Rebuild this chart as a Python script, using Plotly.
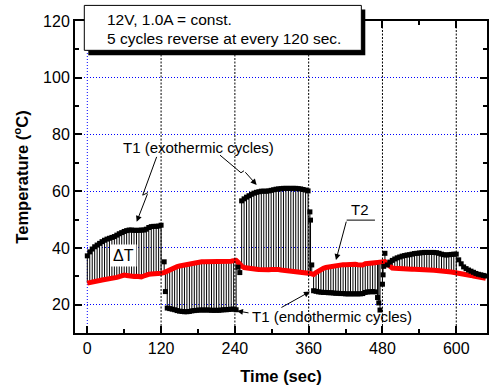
import plotly.graph_objects as go

# ---------------- data ----------------
# cycle 1 (exothermic) 0-120 s
time_a = [0, 4, 8, 12, 16, 20, 24, 28, 32, 36, 40, 44, 48, 52, 56, 60, 64, 68, 72, 76,
          80, 84, 88, 92, 96, 100, 104, 108, 112, 116, 120]
t1_a = [37.2, 38.6, 39.6, 40.4, 41.0, 41.6, 42.2, 42.7, 43.1, 43.4, 43.7, 44.0, 44.5, 45.0,
        45.4, 45.8, 46.1, 46.3, 46.3, 46.2, 46.2, 46.2, 46.3, 46.3, 46.6, 47.2, 47.5, 47.6,
        47.6, 47.7, 48.0]
t2_a = [27.6, 27.7, 27.9, 28.1, 28.3, 28.5, 28.7, 28.8, 28.9, 29.0, 29.1, 29.3, 29.6, 29.9,
        30.2, 30.4, 30.3, 30.1, 29.9, 29.9, 30.0, 29.8, 29.8, 30.1, 30.5, 30.7, 30.8, 30.8,
        30.9, 31.0, 31.1]

# reversal at 120 s
time_r1 = [125, 127]
t1_r1 = [35.1, 24.6]
t2_r1 = [31.3, 31.5]

# cycle 2 (endothermic) 120-240 s
time_b = [130, 134, 138, 142, 146, 150, 154, 158, 162, 166, 170, 174, 178, 182, 186, 190,
          194, 198, 202, 206, 210, 214, 218, 222, 226, 230, 234, 238, 242]
t1_b = [18.8, 18.6, 18.4, 18.2, 17.9, 17.7, 17.6, 17.5, 17.5, 17.6, 17.8, 17.9, 18.0, 18.1,
        18.1, 18.1, 18.1, 18.1, 18.0, 18.0, 18.0, 18.0, 18.1, 18.2, 18.2, 18.3, 18.4, 18.4,
        18.2]
t2_b = [31.8, 32.5, 32.9, 33.2, 33.4, 33.6, 33.8, 33.9, 34.0, 34.2, 34.4, 34.6, 34.8, 35.0,
        35.1, 35.1, 35.1, 35.0, 35.0, 35.0, 34.9, 34.9, 34.9, 35.0, 35.1, 35.2, 35.3, 35.5,
        35.6]

# reversal at 240 s
time_r2 = [245, 248]
t1_r2 = [33.2, 31.3]
t2_r2 = [35.0, 34.1]

# cycle 3 (exothermic) 240-360 s
time_c = [251, 255, 259, 263, 267, 271, 275, 279, 283, 287, 291, 295, 299, 303, 307, 311,
          315, 319, 323, 327, 331, 335, 339, 343, 347, 351, 355, 359]
t1_c = [56.6, 57.3, 57.9, 58.4, 58.9, 59.3, 59.6, 59.8, 60.0, 60.0, 60.0, 60.1, 60.3, 60.5,
        60.7, 60.8, 60.9, 61.0, 61.0, 61.0, 61.0, 61.0, 61.0, 60.9, 60.8, 60.6, 60.4, 60.1]
t2_c = [33.6, 33.1, 32.9, 32.8, 32.7, 32.6, 32.5, 32.4, 32.3, 32.2, 32.2, 32.3, 32.4, 32.5,
        32.5, 32.4, 32.2, 32.1, 32.0, 32.0, 32.0, 31.9, 31.8, 31.7, 31.6, 31.6, 31.5, 31.4]

# reversal at 360 s
time_r3 = [362, 363, 365]
t1_r3 = [52.7, 49.8, 34.0]
t2_r3 = [31.2, 31.0, 30.8]

# cycle 4 (endothermic) 360-480 s
time_d = [368, 372, 376, 380, 384, 388, 392, 396, 400, 404, 408, 412, 416, 420, 424, 428,
          432, 436, 440, 444, 448, 452, 456, 460, 464, 468]
t1_d = [24.9, 24.7, 24.5, 24.4, 24.3, 24.3, 24.2, 24.2, 24.1, 24.0, 24.0, 23.9, 23.9, 23.8,
        23.8, 23.8, 23.8, 23.8, 23.8, 23.8, 23.9, 24.3, 24.5, 24.5, 24.6, 24.5]
t2_d = [30.6, 31.3, 31.9, 32.4, 32.8, 33.1, 33.3, 33.5, 33.7, 33.8, 33.9, 34.0, 34.1, 34.1,
        34.2, 34.2, 34.2, 34.2, 34.1, 34.0, 34.0, 34.4, 34.6, 34.6, 34.7, 34.8]

# reversal at 480 s
time_r4 = [472, 474, 476, 480, 481, 482, 484, 488]
t1_r4 = [22.5, 20.6, 18.1, 27.2, 30.5, 33.5, 38.1, 34.0]
t2_r4 = [34.9, 35.0, 35.1, 35.3, 35.3, 35.3, 35.2, 34.3]

# cycle 5 (exothermic) 480-600 s
time_e = [492, 496, 500, 504, 508, 512, 516, 520, 524, 528, 532, 536, 540, 544, 548, 552,
          556, 560, 564, 568, 572, 576, 580, 584, 588, 592, 596, 600]
t1_e = [35.0, 35.6, 36.1, 36.5, 36.8, 37.1, 37.3, 37.5, 37.6, 37.8, 38.0, 38.1, 38.2, 38.3,
        38.4, 38.4, 38.4, 38.4, 38.4, 38.3, 38.1, 37.8, 37.6, 37.5, 37.6, 37.7, 37.8, 37.8]
t2_e = [33.3, 32.9, 32.8, 32.7, 32.6, 32.6, 32.5, 32.5, 32.5, 32.5, 32.5, 32.5, 32.5, 32.4,
        32.4, 32.3, 32.2, 32.2, 32.1, 32.0, 32.0, 31.9, 31.8, 31.7, 31.6, 31.5, 31.4, 31.3]

# after power off (> 600 s)
time_f = [604, 608, 612, 616, 620, 624, 628, 632, 636, 640, 644, 648]
t1_f = [35.8, 34.4, 33.3, 32.7, 32.2, 31.8, 31.4, 31.0, 30.7, 30.5, 30.3, 30.1]
t2_f = [31.1, 31.0, 30.8, 30.7, 30.5, 30.3, 30.1, 29.9, 29.7, 29.6, 29.4, 29.3]

cycle_bounds = [120, 240, 360, 480, 600]
blue_grid_x = [0]
x_ticks = [0, 120, 240, 360, 480, 600]
y_ticks = [20, 40, 60, 80, 100, 120]
last_cycle_end = 600

time = time_a + time_r1 + time_b + time_r2 + time_c + time_r3 + time_d + time_r4 + time_e + time_f
t1 = t1_a + t1_r1 + t1_b + t1_r2 + t1_c + t1_r3 + t1_d + t1_r4 + t1_e + t1_f
t2 = t2_a + t2_r1 + t2_b + t2_r2 + t2_c + t2_r3 + t2_d + t2_r4 + t2_e + t2_f

# drop lines (delta T hatching) between T1 and T2 during the cycles
drop_x, drop_y = [], []
for t, a, b in zip(time, t1, t2):
    if t <= last_cycle_end:
        drop_x += [t, t, None]
        drop_y += [a, b, None]

FONT = "Liberation Sans, Arial, sans-serif"

fig = go.Figure()
fig.add_trace(go.Scatter(x=drop_x, y=drop_y, mode="lines",
                         line=dict(color="black", width=1), showlegend=False, hoverinfo="skip"))
fig.add_trace(go.Scatter(x=time, y=t2, mode="lines", name="T2",
                         line=dict(color="#ff0000", width=5), showlegend=False))
fig.add_trace(go.Scatter(x=time, y=t1, mode="markers", name="T1",
                         marker=dict(symbol="square", size=5, color="black", line=dict(width=0)),
                         showlegend=False))

shapes = []
for b in blue_grid_x:
    shapes.append(dict(type="line", xref="x", yref="paper", x0=b, x1=b, y0=0, y1=1,
                       line=dict(color="#0000ff", width=1, dash="1px,2px"), layer="between"))
for b in cycle_bounds:
    shapes.append(dict(type="line", xref="x", yref="paper", x0=b, x1=b, y0=0, y1=1,
                       line=dict(color="black", width=1, dash="2px,1.5px"), layer="above"))

# info box with shadow
shapes.append(dict(type="rect", xref="paper", yref="paper", x0=0.0323, x1=0.7046, y0=0.890, y1=1.037,
                   fillcolor="black", line=dict(width=0), layer="above"))
shapes.append(dict(type="rect", xref="paper", yref="paper", x0=0.0226, x1=0.695, y0=0.906, y1=1.050,
                   fillcolor="white", line=dict(color="black", width=1), layer="above"))

# zig-zag leader lines
shapes.append(dict(type="path", xref="x", yref="y",
                   path="M 112.8 72.1 L 90.1 58.6 L 98.7 59.5",
                   line=dict(color="black", width=1)))
shapes.append(dict(type="path", xref="x", yref="y",
                   path="M 215.8 72.7 L 249.9 66.5 L 254.8 67.2",
                   line=dict(color="black", width=1)))
shapes.append(dict(type="line", xref="x", yref="y", x0=421.8, x1=467.8, y0=49.8, y1=49.8,
                   line=dict(color="black", width=1)))

annotations = [
    dict(xref="paper", yref="paper", x=0.0735, y=1.0055, xanchor="left", yanchor="middle",
         text="12V, 1.0A = const.", showarrow=False, font=dict(size=15.5)),
    dict(xref="paper", yref="paper", x=0.0735, y=0.9447, xanchor="left", yanchor="middle",
         text="5 cycles reverse at every 120 sec.", showarrow=False, font=dict(size=15.5)),
    dict(x=181.6, y=75.5, text="T1 (exothermic cycles)", showarrow=False, font=dict(size=15)),
    dict(x=58.5, y=37.2, text="\u0394T", showarrow=False, font=dict(size=16), bgcolor="white",
         borderpad=2),
    dict(x=443.4, y=53.7, text="T2", showarrow=False, font=dict(size=15)),
    dict(x=398.7, y=15.8, text="T1 (endothermic cycles)", showarrow=False, font=dict(size=15)),
]
arrows = [
    (80.3, 49.2, 98.7, 59.5),
    (275.4, 62.2, 254.8, 67.2),
    (404.4, 35.7, 421.8, 49.8),
    (362.1, 24.6, 313.3, 18.7),
    (243.4, 17.8, 264.6, 17.0),
]
for hx, hy, tx, ty in arrows:
    annotations.append(dict(x=hx, y=hy, ax=tx, ay=ty, xref="x", yref="y", axref="x", ayref="y",
                            text="", showarrow=True, arrowhead=2, arrowsize=1.2, arrowwidth=1,
                            arrowcolor="black"))

axis_common = dict(showline=True, linecolor="black", linewidth=2, mirror="ticks",
                   ticks="inside", ticklen=7, tickwidth=1.5, tickcolor="black",
                   gridcolor="#0000ff", griddash="1px,2px", gridwidth=1,
                   zeroline=False, automargin=False,
                   tickfont=dict(size=16, color="black", family=FONT))

fig.update_layout(
    template="none",
    width=492, height=387,
    margin=dict(l=75, r=5, t=21, b=54),
    paper_bgcolor="white", plot_bgcolor="white",
    font=dict(family=FONT, color="black"),
    showlegend=False,
    shapes=shapes, annotations=annotations,
    xaxis=dict(range=[-20, 650], tickvals=x_ticks, showgrid=False,
               minor=dict(ticks="inside", ticklen=4, dtick=60, tick0=0, tickcolor="black", tickwidth=1.5),
               title=dict(text="Time (sec)", font=dict(size=16.5, weight="bold"), standoff=14),
               **axis_common),
    yaxis=dict(range=[10, 120], tickvals=y_ticks, showgrid=True,
               minor=dict(ticks="inside", ticklen=4, dtick=10, tick0=0, tickcolor="black", tickwidth=1.5),
               title=dict(text="Temperature (<sup>o</sup>C)", font=dict(size=16.5, weight="bold"), standoff=10),
               **axis_common),
)

fig.write_html("out.html", config={"displayModeBar": False},
               post_script="document.body.style.margin='0px';")
